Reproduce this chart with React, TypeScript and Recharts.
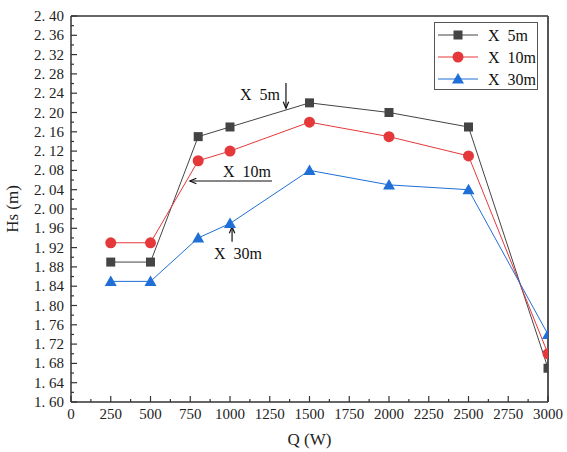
import React from 'react';
import {
	LineChart,
	Line,
	XAxis,
	YAxis,
	ReferenceLine,
	ReferenceDot,
	Legend,
} from 'recharts';

const powers = [250, 500, 800, 1000, 1500, 2000, 2500, 3000];
const hs5m = [1.89, 1.89, 2.15, 2.17, 2.22, 2.2, 2.17, 1.67];
const hs10m = [1.93, 1.93, 2.1, 2.12, 2.18, 2.15, 2.11, 1.7];
const hs30m = [1.85, 1.85, 1.94, 1.97, 2.08, 2.05, 2.04, 1.74];

const xMajor = [0, 250, 500, 750, 1000, 1250, 1500, 1750, 2000, 2250, 2500, 2750, 3000];
const yMajor = [
	1.6, 1.64, 1.68, 1.72, 1.76, 1.8, 1.84, 1.88, 1.92, 1.96, 2.0, 2.04, 2.08, 2.12,
	2.16, 2.2, 2.24, 2.28, 2.32, 2.36, 2.4,
];

const seriesNames = ['X  5m', 'X  10m', 'X  30m'];
const colors = ['#444444', '#e5383b', '#1f6fd6'];

// 主刻度之间加一个次刻度
const withMinor = (major: number[]) => {
	const out: number[] = [];
	major.forEach((v, i) => {
		out.push(v);
		if (i < major.length - 1) out.push((v + major[i + 1]) / 2);
	});
	return out;
};

const isMajor = (list: number[], v: number) =>
	list.some((m) => Math.abs(m - v) < 1e-6);

const chartData = powers.map((q, i) => ({
	q,
	a: hs5m[i],
	b: hs10m[i],
	c: hs30m[i],
}));

const FONT = '"Liberation Serif", "DejaVu Serif", serif';
const AXIS = '#333333';

const YTick = ({ x, y, payload }: any) => {
	const major = isMajor(yMajor, payload.value);
	return (
		<g>
			<line x1={x} x2={x + (major ? 6 : 3)} y1={y} y2={y} stroke={AXIS} strokeWidth={1.2} />
			{major && (
				<text x={x - 7} y={y} dy={5} textAnchor="end" fontSize={15} fontFamily={FONT} fill="#222">
					{payload.value.toFixed(2).replace('.', '. ')}
				</text>
			)}
		</g>
	);
};

const XTick = ({ x, y, payload }: any) => {
	const major = isMajor(xMajor, payload.value);
	return (
		<g>
			<line x1={x} x2={x} y1={y} y2={y - (major ? 6 : 3)} stroke={AXIS} strokeWidth={1.2} />
			{major && (
				<text x={x} y={y + 17} textAnchor="middle" fontSize={15} fontFamily={FONT} fill="#222">
					{payload.value}
				</text>
			)}
		</g>
	);
};

const Marker = ({ kind, cx, cy, color }: any) => {
	if (kind === 0) return <rect x={cx - 4.5} y={cy - 4.5} width={9} height={9} fill={color} />;
	if (kind === 1) return <circle cx={cx} cy={cy} r={5.5} fill={color} />;
	return <polygon points={`${cx},${cy - 6} ${cx - 6},${cy + 4.5} ${cx + 6},${cy + 4.5}`} fill={color} />;
};

const makeDot = (kind: number) => (props: any) => (
	<Marker key={props.key ?? `${kind}-${props.index}`} kind={kind} cx={props.cx} cy={props.cy} color={colors[kind]} />
);

const Arrow = (props: any) => {
	const { x1, y1, x2, y2 } = props;
	const ang = Math.atan2(y2 - y1, x2 - x1);
	const h = 7;
	const a1 = ang + Math.PI - 0.4;
	const a2 = ang + Math.PI + 0.4;
	return (
		<g stroke="#111" strokeWidth={1.2} fill="none">
			<line x1={x1} y1={y1} x2={x2} y2={y2} />
			<polyline
				points={`${x2 + h * Math.cos(a1)},${y2 + h * Math.sin(a1)} ${x2},${y2} ${x2 + h * Math.cos(a2)},${y2 + h * Math.sin(a2)}`}
			/>
		</g>
	);
};

const note = (label: string) => (p: any) => (
	<text x={p.cx} y={p.cy} dy={5} textAnchor="middle" fontSize={16} fontFamily={FONT} fill="#111" style={{ whiteSpace: 'pre' }}>
		{label}
	</text>
);

const LegendBox = () => (
	<div style={{ width: 104, height: 68, border: '1px solid #555', background: '#fff', boxSizing: 'border-box' }}>
		<svg width={104} height={68}>
			{seriesNames.map((name, i) => {
				const cy = 12 + i * 22;
				return (
					<g key={name}>
						<line x1={3} x2={43} y1={cy} y2={cy} stroke={colors[i]} strokeWidth={1} />
						<Marker kind={i} cx={23} cy={cy} color={colors[i]} />
						<text x={53} y={cy + 6} fontSize={16} fontFamily={FONT} fill="#111" style={{ whiteSpace: 'pre' }}>
							{name}
						</text>
					</g>
				);
			})}
		</svg>
	</div>
);

export default function App() {
	return (
		<div style={{ position: 'absolute', left: 0, top: 0, background: '#fff' }}>
			<LineChart width={567} height={452} data={chartData} margin={{ top: 16, right: 19, bottom: 0, left: 0 }}>
				<XAxis
					dataKey="q"
					type="number"
					domain={[0, 3000]}
					ticks={withMinor(xMajor)}
					interval={0}
					allowDataOverflow
					height={50}
					tickSize={0}
					tickMargin={0}
					tickLine={false}
					tick={<XTick />}
					axisLine={{ stroke: AXIS, strokeWidth: 1.5 }}
					label={{ value: 'Q (W)', position: 'insideBottom', offset: 7, fontSize: 17, fontFamily: FONT, fill: '#222', style: { whiteSpace: 'pre' } }}
				/>
				<YAxis
					type="number"
					domain={[1.6, 2.4]}
					ticks={withMinor(yMajor)}
					interval={0}
					allowDataOverflow
					width={71}
					tickSize={0}
					tickMargin={0}
					tickLine={false}
					tick={<YTick />}
					axisLine={{ stroke: AXIS, strokeWidth: 1.5 }}
					label={{ value: 'Hs (m)', angle: -90, position: 'insideLeft', offset: 12, fontSize: 17, fontFamily: FONT, fill: '#222', style: { whiteSpace: 'pre', textAnchor: 'middle' } }}
				/>
				<ReferenceLine y={2.4} stroke={AXIS} strokeWidth={1.5} />
				<ReferenceLine x={3000} stroke="#555" strokeWidth={2} />
				<Line dataKey="a" stroke={colors[0]} strokeWidth={1} dot={makeDot(0)} isAnimationActive={false} />
				<Line dataKey="b" stroke={colors[1]} strokeWidth={1} dot={makeDot(1)} isAnimationActive={false} />
				<Line dataKey="c" stroke={colors[2]} strokeWidth={1} dot={makeDot(2)} isAnimationActive={false} />
				<ReferenceLine segment={[{ x: 1352, y: 2.261 }, { x: 1352, y: 2.209 }]} shape={Arrow} />
				<ReferenceLine segment={[{ x: 1264, y: 2.058 }, { x: 748, y: 2.058 }]} shape={Arrow} />
				<ReferenceLine segment={[{ x: 1013, y: 1.932 }, { x: 1013, y: 1.963 }]} shape={Arrow} />
				<ReferenceDot x={1189} y={2.236} r={0} shape={note('X  5m')} />
				<ReferenceDot x={1107} y={2.077} r={0} shape={note('X  10m')} />
				<ReferenceDot x={1050} y={1.907} r={0} shape={note('X  30m')} />
				<Legend
					layout="vertical"
					align="center"
					verticalAlign="middle"
					content={<LegendBox />}
					wrapperStyle={{ left: 434, top: 22, width: 104, height: 68 }}
				/>
			</LineChart>
		</div>
	);
}
